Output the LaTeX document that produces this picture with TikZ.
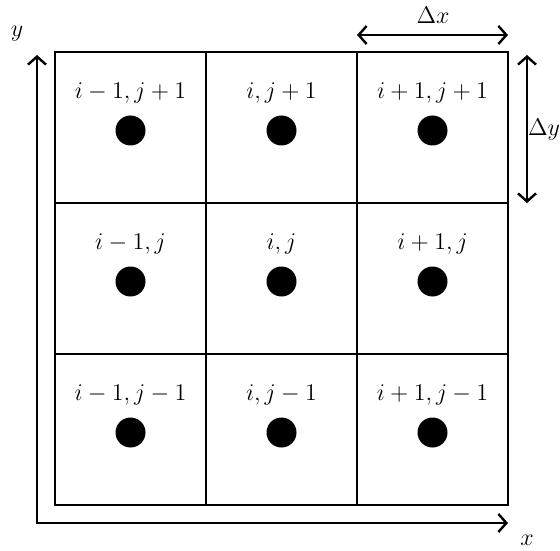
\documentclass[tikz,border=0pt]{standalone}
\usetikzlibrary{arrows.meta}
\begin{document}
\begin{tikzpicture}[x=0.5pt,y=-0.5pt,
  cell/.style={draw,line width=0.75pt,minimum size=75.5pt,inner sep=0pt},
  pt/.style={circle,fill=black,minimum size=15pt,inner sep=0pt},
  lbl/.style={font=\fontsize{12}{14}\selectfont,inner sep=0pt},
  axis/.style={line width=1.2pt,{Straight Barb[length=4pt,width=9pt]}-{Straight Barb[length=4pt,width=9pt]}}]
\useasboundingbox (0,0) rectangle (560,550);
\foreach \k/\ii in {0/i-1,1/i,2/i+1}{
  \foreach \r/\jj in {0/j+1,1/j,2/j-1}{
    \node[cell] (c-\k-\r) at (130.5+151*\k,127.5+151*\r) {};
    \node[lbl] (l-\k-\r) at (130.5+151*\k,93+151*\r) {$\ii,\jj$};
    \node[pt] (p-\k-\r) at (130.5+151*\k,130.5+151*\r) {};
  }
}
\coordinate (O) at (37,523);
\coordinate (ytip) at (37,55);
\coordinate (xtip) at (508,523);
\draw[axis] (ytip) -- (O) -- (xtip);
\node[lbl] (ylab) at (17,34) {$y$};
\node[lbl] (xlab) at (527,540) {$x$};
\coordinate (dx1) at (357,35);
\coordinate (dx2) at (508,35);
\draw[axis] (dx1) -- (dx2);
\node[lbl] (dxlab) at (433,15) {$\Delta x$};
\coordinate (dy1) at (527,55);
\coordinate (dy2) at (527,203);
\draw[axis] (dy1) -- (dy2);
\node[lbl] (dylab) at (544,130) {$\Delta y$};
\end{tikzpicture}
\end{document}
